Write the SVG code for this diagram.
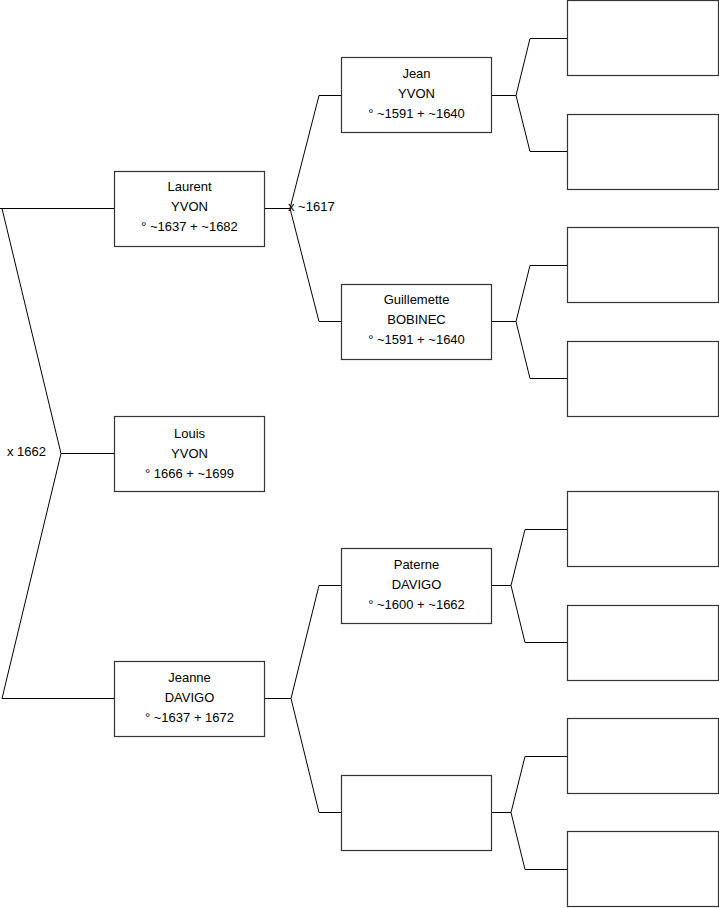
<svg xmlns="http://www.w3.org/2000/svg" width="719" height="908" viewBox="0 0 719 908">
<style>
.box{fill:#fff;stroke:#333;stroke-width:1.2}
.ln{fill:none;stroke:#000;stroke-width:1}
text{font-family:"Liberation Sans",Arial,sans-serif;font-size:13px;fill:#000}
.c{text-anchor:middle}
</style>
<rect width="719" height="908" fill="#fff"/>
<g id="connectors">
<path class="ln" d="M114,453.5 H61 M114,208.5 H0 M2,208.5 L61,453.5 L2,698.5 H114"/>
<path class="ln" d="M265,208.5 H290 M319,95.5 L290,208.5 L319,321.5 M319,95.5 H341 M319,321.5 H341"/>
<path class="ln" d="M265,698.5 H291 M319,585.5 L291,698.5 L319,812.5 M319,585.5 H341 M319,812.5 H341"/>
<path class="ln" d="M491,95.5 H516 M567,38.5 H530 L516,95.5 L530,151.5 H567"/>
<path class="ln" d="M491,321.5 H516 M567,265.5 H530 L516,321.5 L530,378.5 H567"/>
<path class="ln" d="M491,585.5 H511 M567,529.5 H525 L511,585.5 L525,642.5 H567"/>
<path class="ln" d="M491,812.5 H511 M567,756.5 H525 L511,812.5 L525,869.5 H567"/>
<text x="7" y="456">x 1662</text>
<text x="288" y="211">x ~1617</text>
</g>
<g id="laurent"><rect class="box" x="114.5" y="171.5" width="150" height="75"/>
<text class="c" x="189.5" y="191">Laurent</text><text class="c" x="189.5" y="211">YVON</text><text class="c" x="189.5" y="231">° ~1637 + ~1682</text></g>
<g id="louis"><rect class="box" x="114.5" y="416.5" width="150" height="75"/>
<text class="c" x="189.5" y="438">Louis</text><text class="c" x="189.5" y="458">YVON</text><text class="c" x="189.5" y="478">° 1666 + ~1699</text></g>
<g id="jeanne"><rect class="box" x="114.5" y="661.5" width="150" height="75"/>
<text class="c" x="189.5" y="682">Jeanne</text><text class="c" x="189.5" y="702">DAVIGO</text><text class="c" x="189.5" y="722">° ~1637 + 1672</text></g>
<g id="jean"><rect class="box" x="341.5" y="57.5" width="150" height="75"/>
<text class="c" x="416.5" y="78">Jean</text><text class="c" x="416.5" y="98">YVON</text><text class="c" x="416.5" y="118">° ~1591 + ~1640</text></g>
<g id="guillemette"><rect class="box" x="341.5" y="284.5" width="150" height="75"/>
<text class="c" x="416.5" y="304">Guillemette</text><text class="c" x="416.5" y="324">BOBINEC</text><text class="c" x="416.5" y="344">° ~1591 + ~1640</text></g>
<g id="paterne"><rect class="box" x="341.5" y="548.5" width="150" height="75"/>
<text class="c" x="416.5" y="569">Paterne</text><text class="c" x="416.5" y="589">DAVIGO</text><text class="c" x="416.5" y="609">° ~1600 + ~1662</text></g>
<g id="unknown-mother"><rect class="box" x="341.5" y="775.5" width="150" height="75"/></g>
<g id="g3-1"><rect class="box" x="567.5" y="0.5" width="151" height="75"/></g>
<g id="g3-2"><rect class="box" x="567.5" y="114.5" width="151" height="75"/></g>
<g id="g3-3"><rect class="box" x="567.5" y="227.5" width="151" height="75"/></g>
<g id="g3-4"><rect class="box" x="567.5" y="341.5" width="151" height="75"/></g>
<g id="g3-5"><rect class="box" x="567.5" y="491.5" width="151" height="75"/></g>
<g id="g3-6"><rect class="box" x="567.5" y="605.5" width="151" height="75"/></g>
<g id="g3-7"><rect class="box" x="567.5" y="718.5" width="151" height="75"/></g>
<g id="g3-8"><rect class="box" x="567.5" y="831.5" width="151" height="75"/></g>
</svg>
